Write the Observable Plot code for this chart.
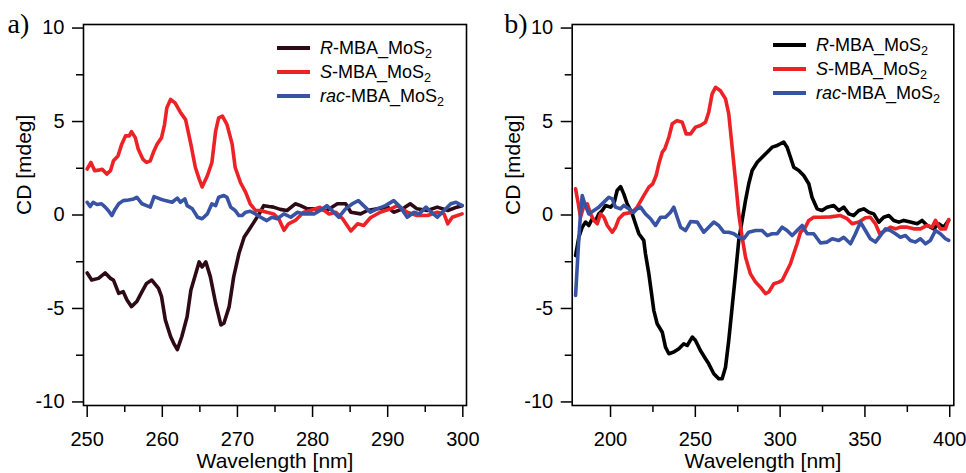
<!DOCTYPE html>
<html><head><meta charset="utf-8">
<script src="https://cdn.jsdelivr.net/npm/d3@7"></script>
<script src="https://cdn.jsdelivr.net/npm/@observablehq/plot@0.6"></script>
<style>
body{margin:0;background:#fff;}
#wrap{position:relative;width:966px;height:473px;overflow:hidden;font-family:"Liberation Sans",Arial,sans-serif;background:#fff;}
.panel{position:absolute;top:0;}
.panel svg{display:block;}
.lg{position:absolute;font-size:18px;color:#000;white-space:nowrap;height:24px;display:flex;align-items:center;}
.lg .sw{width:33px;height:4px;margin-right:10px;}
.lg sub{font-size:0.7em;line-height:0;vertical-align:-0.3em;}
</style></head>
<body>
<div id="wrap"></div>
<script>
// ---------- data: [wavelength nm, CD mdeg] ----------
const aR = [[250,-3.1],[250.6,-3.48],[251.5,-3.39],[252.4,-3.1],[253.1,-3.39],[253.5,-3.48],[254.2,-4.19],[254.8,-4.1],[255.3,-4.55],[255.9,-4.9],[256.6,-4.63],[257.3,-4.1],[257.9,-3.66],[258.6,-3.48],[259.5,-3.93],[259.9,-4.37],[260.4,-5.61],[261.1,-6.5],[261.5,-6.85],[262,-7.2],[262.6,-6.5],[263.3,-5.44],[263.8,-4.02],[264.2,-3.48],[264.9,-2.51],[265.3,-2.78],[265.8,-2.51],[266.4,-3.31],[267.1,-4.72],[267.8,-5.88],[268.2,-5.79],[268.9,-4.9],[269.5,-3.31],[270.2,-2.06],[270.9,-1.18],[271.5,-0.82],[272.2,-0.38],[272.9,0.06],[273.5,0.5],[274.2,0.45],[274.8,0.42],[275.7,0.3],[276.6,0.24],[277.7,0.6],[278.4,0.5],[279.3,0.33],[280.6,0.33],[281.9,0.24],[283.3,0.6],[284.4,0.6],[285.1,0.15],[286.4,0.06],[287.3,0.24],[288.6,0.33],[290,0.42],[290.8,0.15],[292,0.33],[293,0.6],[293.9,0.33],[295.3,0.24],[296.6,0.42],[298,0.24],[299.2,0.42],[299.9,0.5]];
const aS = [[250,2.46],[250.5,2.81],[251,2.37],[251.5,2.4],[252,2.45],[252.6,2.19],[253.1,2.37],[253.5,2.9],[254.1,3.16],[254.6,3.79],[255.1,4.23],[255.6,4.23],[255.9,4.46],[256.4,4.14],[256.8,3.52],[257.4,2.99],[257.9,2.81],[258.4,2.9],[258.8,3.34],[259.3,3.79],[259.9,4.14],[260.3,4.85],[260.6,5.73],[261.1,6.18],[261.7,6.0],[262.4,5.5],[263.1,5.1],[263.8,3.79],[264.4,2.54],[264.9,1.93],[265.3,1.5],[266,2.1],[266.6,2.81],[267.1,4.49],[267.5,5.2],[268,5.29],[268.6,4.85],[269.3,3.79],[269.7,2.54],[270.4,1.74],[271.1,1.21],[271.7,0.6],[272.4,0.24],[273.1,0.24],[273.9,0.15],[274.8,0.06],[275.5,-0.2],[276.2,-0.82],[276.8,-0.47],[277.7,-0.29],[278.8,0.15],[279.7,0.24],[281,0.41],[282.2,0.05],[283.1,0.15],[284,-0.2],[285.1,-0.85],[286,-0.47],[286.8,-0.56],[287.7,-0.15],[289,0.15],[290.4,0.33],[291.3,0.5],[292.6,0.15],[293.9,-0.03],[295.3,-0.03],[296.6,0.15],[297.5,0.06],[298,-0.47],[298.6,-0.12],[299.9,0.06]];
const aRac = [[250,0.68],[250.4,0.45],[250.8,0.68],[251.3,0.56],[251.9,0.6],[252.4,0.42],[252.8,0.24],[253.3,-0.03],[253.7,0.3],[254.2,0.6],[254.8,0.77],[255.5,0.8],[256.2,0.86],[256.6,0.95],[257.3,0.6],[257.9,0.5],[258.4,0.42],[258.9,0.98],[259.7,0.86],[260.4,0.77],[261.3,0.68],[262,0.9],[262.4,0.68],[263,0.86],[263.3,0.5],[264,0.33],[264.7,-0.12],[265.3,-0.2],[266,0.06],[266.6,0.6],[267.1,0.5],[267.5,0.95],[268.2,1.04],[268.6,0.95],[269.1,0.42],[269.7,0.24],[270.2,-0.03],[270.6,-0.03],[271.1,0.15],[271.7,0.2],[272.4,0.06],[273.1,-0.12],[273.9,-0.3],[274.6,-0.12],[275.3,-0.2],[276.2,0.06],[277.1,-0.12],[278,0.15],[278.8,0.06],[280.2,0.06],[281,0.24],[281.9,0.5],[282.6,0.24],[283.5,-0.12],[284.4,0.33],[285.3,0.6],[286.1,0.77],[287,0.42],[287.7,0.15],[288.6,0.33],[289.7,0.5],[290.8,0.77],[291.7,0.42],[292.6,-0.12],[293.5,0.15],[294.2,0.06],[295.1,0.42],[295.8,0.15],[296.6,-0.12],[297.5,0.24],[298.4,0.6],[299.1,0.68],[299.9,0.5]];

const bR = [[179.4,-2.17],[181.3,-1.19],[183.3,-0.65],[185.3,-0.38],[187.2,-0.56],[189.2,-0.2],[191.2,-0.29],[193.1,0.06],[195.1,0.24],[197.1,0.51],[200,0.42],[202,0.6],[203.9,1.31],[205.9,1.52],[207.8,1.13],[209.8,0.6],[212.8,0.06],[214.7,-0.47],[216.7,-1.0],[219.6,-1.36],[220.6,-2.07],[222.6,-3.15],[224.2,-4.21],[225.5,-5.1],[227.5,-5.82],[230.5,-6.27],[232.4,-7.07],[234.4,-7.42],[237.3,-7.33],[240.3,-7.15],[243.2,-6.89],[245.2,-6.98],[248.2,-6.53],[250.1,-6.71],[253,-7.25],[256,-7.69],[257.9,-7.96],[260.9,-8.49],[263.8,-8.76],[265.8,-8.76],[267.8,-8.14],[269.7,-6.71],[271.7,-4.93],[273.7,-3.15],[275.6,-1.36],[277.6,-0.29],[279.6,0.78],[281.5,1.67],[283.5,2.38],[286.5,2.82],[289.4,3.09],[292.4,3.36],[295.3,3.63],[298.3,3.72],[300.2,3.81],[302.1,3.9],[304.1,3.63],[306.1,3.09],[308,2.56],[311,2.38],[313.9,2.11],[316.9,1.67],[318.8,0.95],[321.8,0.33],[324.7,0.24],[327.7,0.42],[331.6,0.51],[334.6,0.24],[337.5,0.42],[340.5,0.06],[343.4,-0.03],[346.4,0.24],[349.3,0.33],[352.3,0.15],[355.2,0.06],[358.2,-0.38],[361.1,-0.12],[364.1,-0.03],[367,-0.29],[370,-0.38],[372.9,-0.29],[376.8,-0.38],[380.8,-0.47],[383.7,-0.29],[386.7,-0.56],[390.6,-0.74],[393.5,-0.47],[396.5,-0.65],[399.4,-0.29]];
const bS = [[179.4,1.4],[181,0.6],[182.3,-0.12],[184.3,0.5],[186.3,0.6],[188.2,0.06],[190.2,-0.29],[192.2,-0.47],[194.1,0.06],[196.1,-0.12],[198.1,-0.56],[201,-0.92],[203,-0.65],[204.9,-0.2],[207.8,0.06],[212.8,0.15],[215.7,0.42],[219.6,1.04],[222.6,1.49],[224.9,1.67],[226.9,2.11],[228.5,2.74],[230.5,3.36],[232,3.54],[234.4,4.16],[236.4,4.88],[239.3,5.05],[242.3,4.96],[244.6,4.34],[247.2,4.34],[250.1,4.7],[253,4.79],[256,4.96],[257.9,5.5],[259.9,6.48],[261.9,6.83],[264.8,6.65],[267.8,6.21],[269.7,5.41],[271.7,3.63],[273.7,1.84],[275.6,0.06],[277.6,-1.19],[279.6,-2.26],[282.5,-3.15],[285.5,-3.59],[288.4,-3.86],[291.4,-4.21],[293.3,-4.12],[296.3,-3.68],[299.2,-3.59],[301.2,-3.5],[304.1,-2.97],[306.1,-2.61],[308,-2.07],[310,-1.54],[312,-0.92],[314.9,-0.65],[316.9,-0.29],[319.8,-0.12],[323.8,-0.12],[329.7,-0.1],[335.6,-0.03],[339.5,-0.2],[342.5,-0.47],[346.4,-0.38],[350.3,-0.15],[353.2,-0.12],[356.2,-0.47],[358.7,-1.0],[362.1,-0.83],[365,-0.65],[368,-0.74],[370.9,-0.65],[374.9,-0.65],[378.8,-0.74],[382.7,-0.74],[386.7,-0.56],[389.6,-0.65],[391.6,-0.29],[394.5,-0.74],[397.5,-0.74],[399.4,-0.24]];
const bRac = [[179.4,-4.3],[181,-1.72],[182.3,0.06],[183.3,1.04],[184.8,0.6],[187.2,0.06],[190.2,0.24],[193.1,0.42],[196.1,0.69],[199,0.95],[201,0.86],[202.9,0.42],[205.9,0.33],[207.8,0.51],[210.8,0.33],[213.7,0.15],[215.7,0.33],[217.7,0.42],[220.6,0.06],[223.6,-0.2],[226.5,-0.56],[229.5,-0.12],[232.4,-0.12],[235.4,0.15],[237.3,0.42],[239.3,-0.12],[241.3,-0.65],[244.2,-0.83],[247.2,-0.35],[251.1,-0.38],[255,-0.92],[257.9,-0.65],[260.9,-0.38],[263.8,-0.56],[266.8,-0.92],[269.7,-0.92],[272.7,-1.0],[275.6,-1.19],[278.6,-1.27],[281.5,-0.92],[285.5,-0.83],[289.4,-0.83],[292.4,-1.1],[295.3,-1.0],[298.3,-1.0],[301.2,-0.65],[304.1,-0.83],[307.1,-1.1],[310,-0.83],[313,-0.56],[315.9,-1.0],[319.8,-1.0],[323.8,-1.5],[327.7,-1.45],[330.7,-1.27],[334.6,-1.36],[337.5,-1.19],[341.5,-1.54],[344.4,-1.0],[347.4,-0.38],[350.3,-0.83],[353.2,-1.27],[356.2,-1.45],[359.1,-1.1],[362.1,-0.74],[365,-0.83],[368,-1.0],[370.9,-1.19],[373.9,-1.1],[376.8,-1.36],[379.8,-1.45],[382.7,-1.27],[385.7,-1.54],[388.6,-1.36],[391.6,-0.83],[394.5,-1.0],[397.5,-1.27],[399.4,-1.36]];

// ---------- labels & ticks ----------
const seriesPrefix = ["R", "S", "rac"];
const colorsA = ["#2e0a17", "#ec2226", "#3953a4"];
const colorsB = ["#000000", "#ec2226", "#3953a4"];
const xMajorA = [250, 260, 270, 280, 290, 300];
const xMinorA = [255, 265, 275, 285, 295];
const xMajorB = [200, 250, 300, 350, 400];
const xMinorB = [225, 275, 325, 375];
const yMajor = [-10, -5, 0, 5, 10];
const yMinor = [-7.5, -2.5, 2.5, 7.5];
const xTitle = "Wavelength [nm]";
const yTitle = "CD [mdeg]";
const panelTags = ["a)", "b)"];

function makePanel({series, colors, xDomain, xMajor, xMinor, width, marginLeft, marginRight, tag, tagDx}) {
  const marks = [];
  series.forEach((s, i) => marks.push(Plot.line(s, {x: d => d[0], y: d => d[1], stroke: colors[i], strokeWidth: 3.6, strokeLinejoin: "round", strokeLinecap: "round"})));
  marks.push(
    Plot.axisX(xMajor, {tickSize: 12, tickPadding: 14, fontSize: 20, strokeWidth: 1.5, label: null, tickFormat: d => String(d)}),
    Plot.axisX(xMinor, {tickSize: 7, strokeWidth: 1.5, fill: "none", label: null}),
    Plot.axisY(yMajor, {tickSize: 11, tickPadding: 8, fontSize: 20, strokeWidth: 1.5, label: null, tickFormat: d => String(d)}),
    Plot.axisY(yMinor, {tickSize: 7, strokeWidth: 1.5, fill: "none", label: null}),
    Plot.frame({stroke: "#000", strokeWidth: 1.6}),
    Plot.text([xTitle], {text: d => d, frameAnchor: "bottom", dy: 56, fontSize: 21, lineAnchor: "middle", fill: "#000"}),
    Plot.text([yTitle], {text: d => d, frameAnchor: "left", dx: -59, rotate: -90, fontSize: 21, lineAnchor: "middle", fill: "#000"}),
    Plot.text([tag], {text: d => d, frameAnchor: "top-left", dx: tagDx, dy: 8, fontSize: 28, textAnchor: "start", lineAnchor: "bottom", fontFamily: "'Liberation Serif','Times New Roman',serif", fill: "#000"})
  );
  return Plot.plot({
    width, height: 473, marginLeft, marginRight, marginTop: 24, marginBottom: 68,
    x: {domain: xDomain}, y: {domain: [-10.19, 10.19]},
    style: {fontFamily: "'Liberation Sans', Arial, sans-serif", fontSize: "20px", color: "#000", background: "transparent", overflow: "visible"},
    marks
  });
}

const wrap = document.getElementById("wrap");
function addPanel(svg, left) {
  const d = document.createElement("div");
  d.className = "panel"; d.style.left = left + "px";
  d.appendChild(svg); wrap.appendChild(d);
}
addPanel(makePanel({series: [aR, aS, aRac], colors: colorsA, xDomain: [249.51, 300.49], xMajor: xMajorA, xMinor: xMinorA, width: 480, marginLeft: 83, marginRight: 14, tag: panelTags[0], tagDx: -76}), 0);
addPanel(makePanel({series: [bR, bS, bRac], colors: colorsB, xDomain: [177.4, 402.4], xMajor: xMajorB, xMinor: xMinorB, width: 486, marginLeft: 91.7, marginRight: 12.7, tag: panelTags[1], tagDx: -68}), 480);

function addLegend(left, top, colors) {
  seriesPrefix.forEach((p, i) => {
    const row = document.createElement("div");
    row.className = "lg";
    row.style.left = left + "px";
    row.style.top = (top + i * 24 - 12) + "px";
    const sw = document.createElement("div");
    sw.className = "sw"; sw.style.background = colors[i];
    const t = document.createElement("span");
    t.innerHTML = "<i>" + p + "</i>-MBA_MoS<sub>2</sub>";
    row.appendChild(sw); row.appendChild(t);
    wrap.appendChild(row);
  });
}
addLegend(277, 48, colorsA);
addLegend(773, 45, colorsB);
</script>
</body></html>
